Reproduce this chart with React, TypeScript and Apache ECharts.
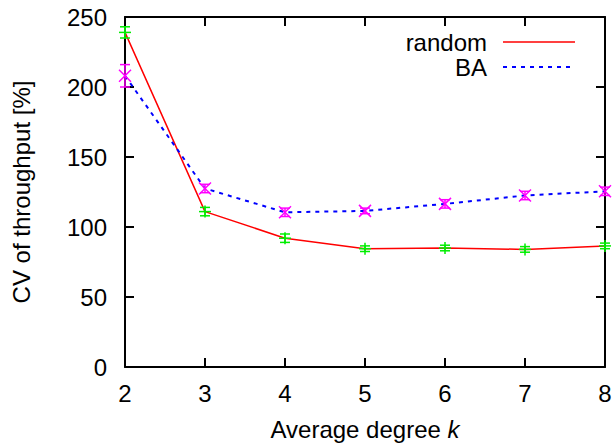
import React, { useEffect, useRef } from "react";
import * as echarts from "echarts";

const kValues = [2, 3, 4, 5, 6, 7, 8];
const randomCV = [239, 111, 92, 84.5, 85, 84, 86.5];
const randomErr = [4, 3, 3, 2, 2, 2, 2];
const baCV = [208, 127.5, 110.5, 111.5, 116.5, 122.5, 125.5];
const baErr = [8, 3, 3, 2, 3, 3, 3];
const yTicks = [0, 50, 100, 150, 200, 250];

const FONT = "Liberation Sans, Arial, Helvetica, sans-serif";
const FS = 24;

function errSeries(name: string, vals: number[], errs: number[], color: string, marker: "plus" | "cross") {
  return {
    name,
    type: "custom",
    clip: false,
    z: 5,
    data: kValues.map((k, i) => [k, vals[i], errs[i]]),
    renderItem: (params: any, api: any) => {
      const x = api.value(0);
      const y = api.value(1);
      const e = api.value(2);
      const p = api.coord([x, y]);
      const t = api.coord([x, y + e]);
      const b = api.coord([x, y - e]);
      const cap = 5;
      const m = 6;
      const style = { stroke: color, lineWidth: 1.5 };
      const children: any[] = [
        { type: "line", shape: { x1: p[0], y1: t[1], x2: p[0], y2: b[1] }, style },
        { type: "line", shape: { x1: p[0] - cap, y1: t[1], x2: p[0] + cap, y2: t[1] }, style },
        { type: "line", shape: { x1: p[0] - cap, y1: b[1], x2: p[0] + cap, y2: b[1] }, style },
      ];
      if (marker === "plus") {
        children.push({ type: "line", shape: { x1: p[0] - m, y1: p[1], x2: p[0] + m, y2: p[1] }, style });
        children.push({ type: "line", shape: { x1: p[0], y1: p[1] - m, x2: p[0], y2: p[1] + m }, style });
      } else {
        children.push({ type: "line", shape: { x1: p[0] - m, y1: p[1] - m, x2: p[0] + m, y2: p[1] + m }, style });
        children.push({ type: "line", shape: { x1: p[0] - m, y1: p[1] + m, x2: p[0] + m, y2: p[1] - m }, style });
      }
      return { type: "group", children };
    },
  };
}

export default function App() {
  const ref = useRef<HTMLDivElement>(null);
  useEffect(() => {
    document.body.style.margin = "0";
    if (!ref.current) return;
    const chart = echarts.init(ref.current, null, { renderer: "svg" });
    const axisLine = { show: true, onZero: false, lineStyle: { color: "#000", width: 2 } };
    const axisTick = { show: true, inside: true, length: 9, lineStyle: { color: "#000", width: 2 } };
    const labelStyle = { color: "#000", fontFamily: FONT, fontSize: FS };
    chart.setOption({
      animation: false,
      backgroundColor: "#fff",
      grid: { left: 125, right: 11, top: 17, bottom: 78, containLabel: false },
      xAxis: [
        {
          type: "value",
          min: 2,
          max: 8,
          interval: 1,
          axisLine,
          axisTick,
          splitLine: { show: false },
          axisLabel: { ...labelStyle, margin: 14 },
          name: "Average degree {i|k}",
          nameLocation: "middle",
          nameGap: 50,
          nameTextStyle: {
            ...labelStyle,
            rich: { i: { ...labelStyle, fontStyle: "italic" } },
          },
        },
        {
          type: "value",
          position: "top",
          min: 2,
          max: 8,
          interval: 1,
          axisLine,
          axisTick,
          splitLine: { show: false },
          axisLabel: { show: false },
        },
      ],
      yAxis: [
        {
          type: "value",
          min: yTicks[0],
          max: yTicks[yTicks.length - 1],
          interval: 50,
          axisLine,
          axisTick,
          splitLine: { show: false },
          axisLabel: { ...labelStyle, margin: 18 },
          name: "CV of throughput [%]",
          nameLocation: "middle",
          nameGap: 92,
          nameTextStyle: labelStyle,
        },
        {
          type: "value",
          position: "right",
          min: 0,
          max: 250,
          interval: 50,
          axisLine,
          axisTick,
          splitLine: { show: false },
          axisLabel: { show: false },
        },
      ],
      series: [
        {
          name: "random",
          type: "line",
          data: kValues.map((k, i) => [k, randomCV[i]]),
          symbol: "none",
          lineStyle: { color: "#ff0000", width: 1.5 },
          z: 3,
        },
        errSeries("random-err", randomCV, randomErr, "#00ee00", "plus"),
        {
          name: "BA",
          type: "line",
          data: kValues.map((k, i) => [k, baCV[i]]),
          symbol: "none",
          lineStyle: { color: "#0000ff", width: 2, type: [4, 5] },
          z: 3,
        },
        errSeries("BA-err", baCV, baErr, "#ff00ff", "cross"),
      ],
      graphic: [
        {
          type: "text",
          x: 487,
          y: 42,
          style: { text: "random", fill: "#000", font: `${FS}px ${FONT}`, align: "right", verticalAlign: "middle" },
        },
        {
          type: "line",
          shape: { x1: 503, y1: 42, x2: 575, y2: 42 },
          style: { stroke: "#ff0000", lineWidth: 1.5 },
        },
        {
          type: "text",
          x: 487,
          y: 67,
          style: { text: "BA", fill: "#000", font: `${FS}px ${FONT}`, align: "right", verticalAlign: "middle" },
        },
        {
          type: "line",
          shape: { x1: 503, y1: 67, x2: 570, y2: 67 },
          style: { stroke: "#0000ff", lineWidth: 2, lineDash: [4, 5] },
        },
      ],
    });
    return () => chart.dispose();
  }, []);
  return <div ref={ref} style={{ width: 616, height: 446 }} />;
}
